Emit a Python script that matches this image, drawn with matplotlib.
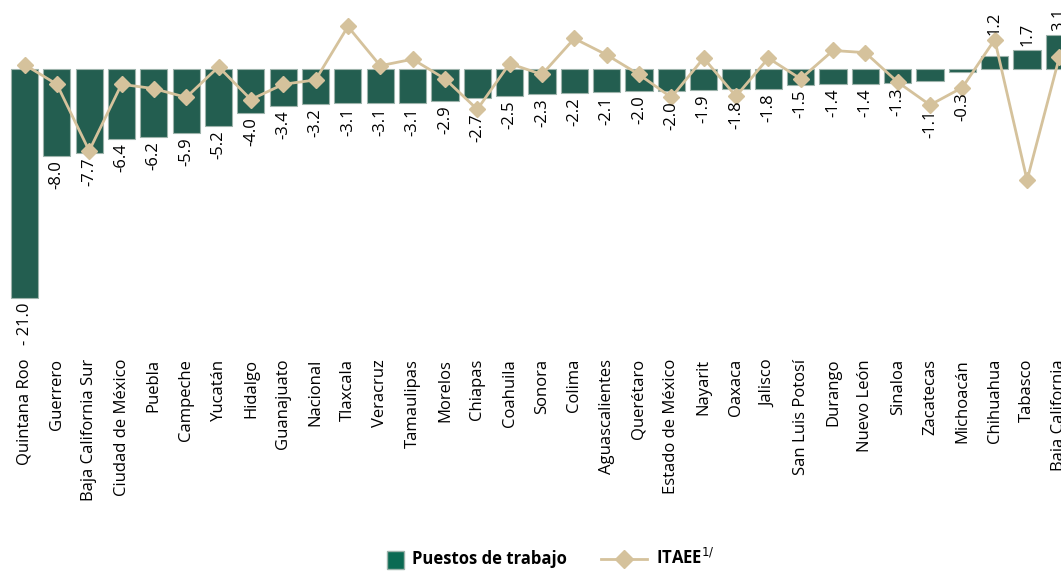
import matplotlib
matplotlib.use('Agg')
import matplotlib.pyplot as plt
from matplotlib.patches import Patch, Rectangle
from matplotlib.lines import Line2D
from matplotlib.legend_handler import HandlerPatch

plt.rcParams['font.family'] = ['Open Sans', 'DejaVu Sans']

# Entidades ordenadas por variación en puestos de trabajo
estados = ['Quintana Roo', 'Guerrero', 'Baja California Sur', 'Ciudad de México', 'Puebla',
           'Campeche', 'Yucatán', 'Hidalgo', 'Guanajuato', 'Nacional', 'Tlaxcala', 'Veracruz',
           'Tamaulipas', 'Morelos', 'Chiapas', 'Coahuila', 'Sonora', 'Colima', 'Aguascalientes',
           'Querétaro', 'Estado de México', 'Nayarit', 'Oaxaca', 'Jalisco', 'San Luis Potosí',
           'Durango', 'Nuevo León', 'Sinaloa', 'Zacatecas', 'Michoacán', 'Chihuahua', 'Tabasco',
           'Baja California']
puestos = [-21.0, -8.0, -7.7, -6.4, -6.2, -5.9, -5.2, -4.0, -3.4, -3.2, -3.1, -3.1,
           -3.1, -2.9, -2.7, -2.5, -2.3, -2.2, -2.1, -2.0, -2.0, -1.9, -1.8, -1.8, -1.5,
           -1.4, -1.4, -1.3, -1.1, -0.3, 1.2, 1.7, 3.1]
itaee = [0.4, -1.4, -7.5, -1.4, -1.8, -2.6, 0.2, -2.8, -1.4, -1.0, 3.9, 0.3,
         0.9, -0.9, -3.7, 0.5, -0.5, 2.8, 1.3, -0.5, -2.6, 1.0, -2.5, 1.0, -0.9,
         1.7, 1.5, -1.2, -3.3, -1.7, 2.7, -10.2, 1.1]

verde = '#235E50'
arena = '#D5C29C'


# cuadrito para la leyenda de las barras
def cuadro(legend, orig_handle, xdescent, ydescent, width, height, fontsize):
    s = height * 1.5
    return Rectangle((width - s - xdescent, -ydescent - 0.25 * s), s, s)


fig = plt.figure(figsize=(10.61, 5.71), dpi=100)
ax = fig.add_axes([0, 0.3835, 1, 0.6165])

x = range(len(estados))
ax.bar(x, puestos, width=0.84, color=verde, edgecolor='#9DB3AB', linewidth=0.8, zorder=2)
ax.plot(x, itaee, color=arena, linewidth=2, marker='D', markersize=8, zorder=3)

# etiquetas de valor, debajo/encima de la barra o del rombo
for i, v in enumerate(puestos):
    if v < 0:
        y = min(v, itaee[i]) - 0.4
        txt = '- 21.0' if v <= -20 else f'{v:.1f}'
        ax.text(i, y, txt, rotation=90, ha='center', va='top', fontsize=12)
    else:
        y = max(v, itaee[i]) + 0.4
        ax.text(i, y, f'{v:.1f}', rotation=90, ha='center', va='bottom', fontsize=12)

ax.set_xlim(-0.758, 32.05)
ax.set_ylim(-25.96, 6.33)
ax.set_xticks(list(x))
ax.set_xticklabels(estados, rotation=90, fontsize=12)
ax.tick_params(axis='x', length=0, pad=5)
ax.set_yticks([])
for s in ax.spines.values():
    s.set_visible(False)

handles = [Patch(facecolor='#0B6A53', edgecolor='#9DB3AB', label='Puestos de trabajo'),
           Line2D([0], [0], color=arena, linewidth=2, marker='D', markersize=9,
                  label='ITAEE$^{1/}$')]
fig.legend(handles=handles, loc='center', bbox_to_anchor=(0.505, 0.022), ncol=2,
           frameon=False, prop={'weight': 'bold', 'size': 12}, handlelength=2.8,
           columnspacing=2.0, handletextpad=0.5,
           handler_map={Patch: HandlerPatch(patch_func=cuadro)})

fig.savefig('out.png', dpi=100)
